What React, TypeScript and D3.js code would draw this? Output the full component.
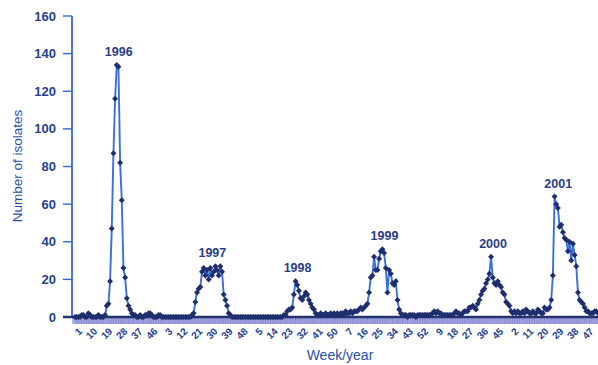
import React from "react";
import * as d3 from "d3";

// Weekly counts of isolates, one array per calendar year (52 weeks each)
const weeks1996 = [
  0, 0, 0, 0, 1, 1, 0, 0, 2, 1, 0, 0, 0, 0, 1, 0, 0, 0, 1,
  6, 7, 19, 47, 87, 116, 134, 133, 82, 62, 26, 21, 10, 6, 4, 2, 1,
  1, 0, 0, 1, 0, 0, 1, 1, 2, 2, 1, 0, 0, 0, 1, 1,
];
const weeks1997 = [
  0, 0, 0, 0, 0, 0, 0, 0, 0, 0, 0, 0, 0, 0, 0, 0, 0, 0, 1,
  2, 8, 13, 15, 16, 24, 26, 22, 25, 20, 26, 22, 24, 27, 25, 22, 27, 24, 12, 9, 6, 2, 1,
  0, 0, 0, 0, 0, 0, 0, 0, 0, 0,
];
const weeks1998 = [
  0, 0, 0, 0, 0, 0, 0, 0, 0, 0, 0, 0, 0, 0, 0, 0, 0, 0, 0, 0, 0, 1,
  1, 3, 4, 4, 5, 12, 19, 17, 14, 10, 9, 11, 13, 12, 9, 7, 5, 4, 2, 1,
  1, 2, 1, 1, 2, 1, 1, 2, 1, 2,
];
const weeks1999 = [
  1, 2, 1, 2, 2, 1, 3, 2, 2, 3, 2, 3, 3,
  3, 4, 5, 4, 5, 6, 7, 13, 21, 22, 32, 25, 25, 31, 35, 36, 34, 26, 13, 25, 23, 18, 17, 19, 9, 4, 2, 1,
  1, 1, 0, 1, 1, 1, 1, 0, 1, 1, 1,
];
const weeks2000 = [
  1, 1, 1, 1, 1, 1, 2, 3, 2, 3, 2, 2, 1, 1, 1, 1, 1, 1, 1, 2, 3, 2, 2, 1, 2, 3, 3,
  3, 5, 5, 6, 5, 4, 7, 9, 12, 14, 15, 18, 20, 23, 32, 21, 18, 17, 19, 17, 16, 13, 12, 8, 7,
];
const weeks2001 = [
  6, 3, 2, 3, 2, 3, 2, 2, 3, 2, 4, 3, 2, 2, 3, 2, 2, 4, 3, 2, 2,
  5, 4, 4, 5, 9, 22, 64, 60, 58, 48, 49, 45, 42, 41, 35, 40, 30, 39, 33, 27, 13, 9, 8, 7, 5, 3, 3, 2, 2, 2, 3,
];
const weeks2002 = [3, 2];

const seasons = [1996, 1997, 1998, 1999, 2000, 2001];
const seasonSeries = [weeks1996, weeks1997, weeks1998, weeks1999, weeks2000, weeks2001];

// Week of the season peak each year label sits over (index in the full series)
const seasonLabelWeek = [25, 81, 132, 184, 249, 288];

// Week-number tick labels, every ninth week from week 1 of 1996
const weekTickLabels = [
  "1", "10", "19", "28", "37", "46",
  "3", "12", "21", "30", "39", "48",
  "5", "14", "23", "32", "41", "50",
  "7", "16", "25", "34", "43", "52",
  "9", "18", "27", "36", "45",
  "2", "11", "20", "29", "38", "47",
];
const weekTickStep = 9;

const yTicks = [0, 20, 40, 60, 80, 100, 120, 140, 160];

const series = [...seasonSeries.flat(), ...weeks2002];

const W = 598;
const H = 365;
const axisX = 72;
const baseY = 317;

const x = d3.scaleLinear().domain([0, series.length - 1]).range([75, 598]);
const y = d3.scaleLinear().domain([0, 160]).range([baseY, 16]);

const line = d3
  .line<number>()
  .x((_, i) => x(i))
  .y((d) => y(d));

const diamond = (r: number) => `M0,${-r}L${r},0L0,${r}L${-r},0Z`;

const font = "'Liberation Sans', Arial, Helvetica, sans-serif";
const labelBlue = "#243f8f";
const axisBlue = "#3567d2";

export default function App() {
  const weekIdx = d3.range(series.length);
  return (
    <svg
      width={W}
      height={H}
      style={{ position: "absolute", left: 0, top: 0, background: "#fff" }}
      fontFamily={font}
    >
      {/* weekly tick marks below the x axis */}
      <rect x={axisX} y={baseY + 1} width={W - axisX} height={6} fill="#b3b4e6" />
      <g>
        {weekIdx.map((i) => (
          <line
            key={i}
            x1={x(i)}
            x2={x(i)}
            y1={baseY + 1}
            y2={baseY + 7}
            stroke="#7f84d0"
            strokeWidth={0.9}
          />
        ))}
      </g>

      {/* y axis */}
      <line x1={axisX} x2={axisX} y1={y(160)} y2={baseY} stroke={axisBlue} strokeWidth={1.8} />
      {yTicks.map((t) => (
        <g key={t} transform={`translate(0,${y(t)})`}>
          <line x1={axisX - 9} x2={axisX} stroke={axisBlue} strokeWidth={1.4} />
          <text
            x={56}
            dy="0.35em"
            textAnchor="end"
            fontSize={13}
            fontWeight="bold"
            fill={labelBlue}
          >
            {t}
          </text>
        </g>
      ))}

      {/* x axis */}
      <line x1={axisX - 9} x2={W} y1={baseY} y2={baseY} stroke="#23336e" strokeWidth={2.4} />

      {weekTickLabels.map((lab, k) => {
        const px = x(k * weekTickStep) + 3;
        return (
          <text
            key={k}
            transform={`translate(${px},${baseY + 10}) rotate(-45)`}
            textAnchor="end"
            dy="0.7em"
            fontSize={10}
            fontWeight="bold"
            fill={labelBlue}
          >
            {lab}
          </text>
        );
      })}

      {/* data line and markers */}
      <path d={line(series) ?? ""} fill="none" stroke="#3a6fdc" strokeWidth={1.9} />
      {series.map((v, i) => (
        <path
          key={i}
          d={diamond(3)}
          transform={`translate(${x(i)},${y(v)})`}
          fill="#1f2f6e"
        />
      ))}

      {/* season labels */}
      {seasons.map((yr, k) => {
        const peak = d3.max(seasonSeries[k]) ?? 0;
        return (
          <text
            key={yr}
            x={x(seasonLabelWeek[k]) + 2}
            y={y(peak) - 9}
            textAnchor="middle"
            fontSize={12.5}
            fontWeight="bold"
            fill="#2a3d84"
          >
            {yr}
          </text>
        );
      })}

      {/* axis titles */}
      <text
        x={340}
        y={360}
        textAnchor="middle"
        fontSize={14}
        fill="#2a4fa6"
      >
        Week/year
      </text>
      <text
        transform={`translate(22,166) rotate(-90)`}
        textAnchor="middle"
        fontSize={13.5}
        fill="#2a4fa6"
      >
        Number of isolates
      </text>
    </svg>
  );
}
